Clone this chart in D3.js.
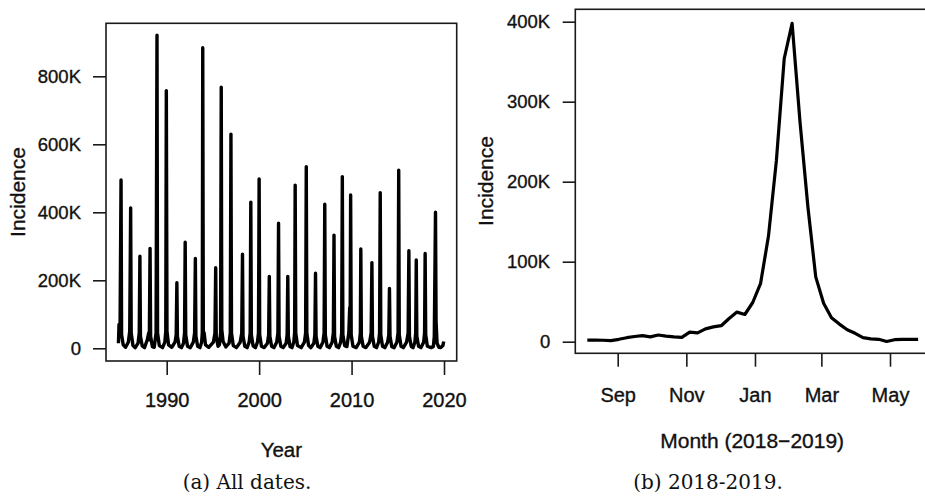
<!DOCTYPE html>
<html>
<head>
<meta charset="utf-8">
<script src="https://cdn.jsdelivr.net/npm/d3@7"></script>
<style>
  body { margin: 0; background: #fff; }
  svg { display: block; overflow: hidden; }
  .tick text, .title { font-family: "Liberation Sans", Arial, sans-serif; fill: #111; stroke: #111; stroke-width: 0.35px; }
  .caption { font-family: "DejaVu Serif", serif; fill: #111; }
</style>
</head>
<body>
<div id="chart"></div>
<script>
// (a) all dates: [year, incidence in thousands]
const allDates = [
  [1984.78, 15], [1984.84, 70], [1984.95, 40], [1985.06, 495], [1985.12, 40], [1985.30, 10], [1985.55, 3],
  [1985.85, 18], [1986.00, 50], [1986.10, 413], [1986.16, 45], [1986.35, 8], [1986.60, 2],
  [1986.90, 15], [1987.03, 45], [1987.10, 271], [1987.16, 35], [1987.35, 7], [1987.60, 2],
  [1987.90, 25], [1988.05, 45], [1988.12, 25], [1988.20, 294], [1988.26, 35], [1988.45, 5], [1988.65, 3],
  [1988.85, 45], [1988.95, 921], [1989.01, 45], [1989.20, 8], [1989.55, 2],
  [1989.80, 18], [1989.90, 50], [1989.96, 758], [1990.03, 50], [1990.20, 10], [1990.55, 3],
  [1990.90, 18], [1991.03, 40], [1991.10, 193], [1991.16, 35], [1991.35, 6], [1991.60, 2],
  [1991.82, 15], [1991.93, 45], [1992.00, 312], [1992.06, 40], [1992.25, 6], [1992.55, 2],
  [1992.88, 18], [1993.02, 45], [1993.10, 264], [1993.16, 35], [1993.35, 6], [1993.60, 2],
  [1993.78, 18], [1993.85, 45], [1993.90, 884], [1993.96, 50], [1994.05, 45], [1994.20, 10], [1994.55, 3],
  [1995.05, 18], [1995.22, 45], [1995.30, 237], [1995.36, 35], [1995.55, 6], [1995.70, 10],
  [1995.83, 45], [1995.90, 768], [1995.96, 55], [1996.10, 20], [1996.40, 4],
  [1996.75, 15], [1996.88, 45], [1996.95, 630], [1997.01, 45], [1997.20, 8], [1997.55, 2],
  [1997.95, 18], [1998.12, 45], [1998.20, 277], [1998.26, 35], [1998.45, 6], [1998.70, 2],
  [1998.92, 18], [1999.03, 45], [1999.10, 430], [1999.16, 40], [1999.35, 7], [1999.60, 2],
  [1999.82, 18], [1999.93, 45], [2000.00, 498], [2000.06, 40], [2000.25, 6], [2000.55, 2],
  [2000.90, 15], [2001.03, 40], [2001.10, 211], [2001.16, 35], [2001.35, 6], [2001.60, 2],
  [2001.90, 18], [2002.03, 45], [2002.10, 368], [2002.16, 35], [2002.35, 6], [2002.60, 2],
  [2002.92, 15], [2003.03, 40], [2003.10, 211], [2003.16, 35], [2003.35, 5], [2003.55, 2],
  [2003.75, 18], [2003.84, 45], [2003.90, 480], [2003.96, 45], [2004.15, 8], [2004.55, 2],
  [2004.90, 18], [2005.03, 45], [2005.10, 534], [2005.16, 45], [2005.35, 8], [2005.60, 2],
  [2005.92, 15], [2006.03, 40], [2006.10, 221], [2006.16, 35], [2006.35, 6], [2006.60, 2],
  [2006.90, 18], [2007.03, 45], [2007.10, 424], [2007.16, 40], [2007.35, 6], [2007.60, 2],
  [2007.90, 18], [2008.03, 45], [2008.10, 333], [2008.16, 35], [2008.35, 6], [2008.60, 2],
  [2008.82, 18], [2008.93, 45], [2009.00, 505], [2009.06, 40], [2009.25, 8], [2009.50, 5],
  [2009.70, 45], [2009.80, 120], [2009.85, 70], [2009.90, 451], [2009.96, 40], [2010.15, 6], [2010.50, 2],
  [2010.85, 18], [2010.95, 45], [2011.00, 292], [2011.06, 35], [2011.25, 6], [2011.55, 2],
  [2011.95, 18], [2012.12, 45], [2012.20, 252], [2012.26, 35], [2012.45, 6], [2012.70, 2],
  [2012.93, 18], [2013.03, 45], [2013.10, 458], [2013.16, 40], [2013.35, 6], [2013.60, 2],
  [2013.90, 18], [2014.03, 40], [2014.10, 176], [2014.16, 35], [2014.35, 5], [2014.60, 2],
  [2014.90, 18], [2015.03, 45], [2015.10, 524], [2015.16, 40], [2015.35, 6], [2015.60, 2],
  [2015.95, 18], [2016.12, 45], [2016.20, 287], [2016.26, 35], [2016.45, 6], [2016.65, 2],
  [2016.85, 18], [2016.94, 45], [2017.00, 260], [2017.06, 35], [2017.25, 6], [2017.50, 2],
  [2017.80, 18], [2017.90, 45], [2017.96, 279], [2018.02, 40], [2018.20, 6], [2018.60, 2],
  [2018.85, 5], [2018.95, 35], [2019.02, 230], [2019.08, 400], [2019.14, 80], [2019.25, 15],
  [2019.45, 3], [2019.65, 2], [2019.88, 8], [2019.97, 20]
];

// (b) 2018-2019 weekly values (thousands)
const weekDates = [
  "2018-08-05", "2018-08-12", "2018-08-19", "2018-08-26", "2018-09-02", "2018-09-09", "2018-09-16",
  "2018-09-23", "2018-09-30", "2018-10-07", "2018-10-14", "2018-10-21", "2018-10-28", "2018-11-04",
  "2018-11-11", "2018-11-18", "2018-11-25", "2018-12-02", "2018-12-09", "2018-12-16", "2018-12-23",
  "2018-12-30", "2019-01-06", "2019-01-13", "2019-01-20", "2019-01-27", "2019-02-03", "2019-02-10",
  "2019-02-17", "2019-02-24", "2019-03-03", "2019-03-10", "2019-03-17", "2019-03-24", "2019-03-31",
  "2019-04-07", "2019-04-14", "2019-04-21", "2019-04-28", "2019-05-05", "2019-05-12", "2019-05-19",
  "2019-05-26"
];
const weekValues = [
  2, 2, 1.8, 1.3, 3, 5, 6.5, 7.5, 6, 8.4, 7, 6, 5.5, 12, 11, 16, 18.5, 20, 29, 37, 34,
  49, 73, 132, 226, 354, 398, 275, 169, 81, 48, 30, 22, 15, 10.5, 5, 3.5, 3, 0.3, 2.5, 3, 3, 3
];

const yearTicks = [1990, 2000, 2010, 2020];
const leftTicks = [0, 200, 400, 600, 800];
const monthTicks = ["2018-09-01", "2018-11-01", "2019-01-01", "2019-03-01", "2019-05-01"];
const monthLabels = ["Sep", "Nov", "Jan", "Mar", "May"];
const rightTicks = [0, 100, 200, 300, 400];

const fullWidth = 925;
const fullHeight = 496;
const parseDay = d3.timeParse("%Y-%m-%d");
const kFormat = d => d === 0 ? "0" : d + "K";

const svg = d3.select("#chart")
              .append("svg")
              .attr("width", fullWidth)
              .attr("height", fullHeight);

// ---------- panel (a) ----------
const boxA = { left: 106, right: 456.7, top: 23.3, bottom: 361 };

const yearScale = d3.scaleLinear()
                    .domain([1990, 2020])
                    .range([166.7, 444]);

const incScaleA = d3.scaleLinear()
                    .domain([0, 800])
                    .range([348.3, 76.3]);

svg.append("rect")
   .attr("x", boxA.left).attr("y", boxA.top)
   .attr("width", boxA.right - boxA.left).attr("height", boxA.bottom - boxA.top)
   .attr("fill", "none").attr("stroke", "#1a1a1a").attr("stroke-width", 1.6);

svg.append("g")
   .attr("class", "y axis")
   .attr("transform", `translate(${boxA.left},0)`)
   .call(d3.axisLeft(incScaleA).tickValues(leftTicks).tickFormat(kFormat).tickSize(13).tickPadding(12))
   .call(g => g.select(".domain").remove())
   .call(g => g.selectAll("line").attr("stroke", "#1a1a1a").attr("stroke-width", 1.6))
   .call(g => g.selectAll("text").style("font-size", "18.5px"));

svg.append("g")
   .attr("class", "x axis")
   .attr("transform", `translate(0,${boxA.bottom})`)
   .call(d3.axisBottom(yearScale).tickValues(yearTicks).tickFormat(d3.format("d")).tickSize(14).tickPadding(18))
   .call(g => g.select(".domain").remove())
   .call(g => g.selectAll("line").attr("stroke", "#1a1a1a").attr("stroke-width", 1.6))
   .call(g => g.selectAll("text").style("font-size", "20px"));

const lineA = d3.line()
                .x(d => yearScale(d[0]))
                .y(d => incScaleA(d[1]));

svg.append("path")
   .datum(allDates)
   .attr("d", lineA)
   .attr("fill", "none")
   .attr("stroke", "#000")
   .attr("stroke-width", 3.4)
   .attr("stroke-linejoin", "round");

svg.append("text").attr("class", "title")
   .attr("transform", "translate(25,192) rotate(-90)")
   .attr("text-anchor", "middle").style("font-size", "21px")
   .text("Incidence");

svg.append("text").attr("class", "title")
   .attr("x", (boxA.left + boxA.right) / 2).attr("y", 457)
   .attr("text-anchor", "middle").style("font-size", "20.5px")
   .text("Year");

svg.append("text").attr("class", "caption")
   .attr("x", 247).attr("y", 489)
   .attr("text-anchor", "middle").style("font-size", "20px")
   .text("(a) All dates.");

// ---------- panel (b) ----------
const boxB = { left: 575.3, right: 929, top: 9.3, bottom: 353.3 };

const monthScale = d3.scaleTime()
                     .domain([parseDay("2018-09-01"), parseDay("2019-05-01")])
                     .range([617.7, 890]);

const incScaleB = d3.scaleLinear()
                    .domain([0, 400])
                    .range([341.7, 21.7]);

svg.append("rect")
   .attr("x", boxB.left).attr("y", boxB.top)
   .attr("width", boxB.right - boxB.left).attr("height", boxB.bottom - boxB.top)
   .attr("fill", "none").attr("stroke", "#1a1a1a").attr("stroke-width", 1.6);

svg.append("g")
   .attr("class", "y axis")
   .attr("transform", `translate(${boxB.left},0)`)
   .call(d3.axisLeft(incScaleB).tickValues(rightTicks).tickFormat(kFormat).tickSize(12.6).tickPadding(12.5))
   .call(g => g.select(".domain").remove())
   .call(g => g.selectAll("line").attr("stroke", "#1a1a1a").attr("stroke-width", 1.6))
   .call(g => g.selectAll("text").style("font-size", "18.5px"));

svg.append("g")
   .attr("class", "x axis")
   .attr("transform", `translate(0,${boxB.bottom})`)
   .call(d3.axisBottom(monthScale)
           .tickValues(monthTicks.map(parseDay))
           .tickFormat((d, i) => monthLabels[i])
           .tickSize(13.4).tickPadding(21))
   .call(g => g.select(".domain").remove())
   .call(g => g.selectAll("line").attr("stroke", "#1a1a1a").attr("stroke-width", 1.6))
   .call(g => g.selectAll("text").style("font-size", "20px"));

const weekly = weekDates.map((d, i) => ({ date: parseDay(d), value: weekValues[i] }));

const lineB = d3.line()
                .x(d => monthScale(d.date))
                .y(d => incScaleB(d.value));

svg.append("path")
   .datum(weekly)
   .attr("d", lineB)
   .attr("fill", "none")
   .attr("stroke", "#000")
   .attr("stroke-width", 3.2)
   .attr("stroke-linejoin", "round");

svg.append("text").attr("class", "title")
   .attr("transform", "translate(493,181) rotate(-90)")
   .attr("text-anchor", "middle").style("font-size", "21px")
   .text("Incidence");

svg.append("text").attr("class", "title")
   .attr("x", (boxB.left + boxB.right) / 2).attr("y", 447.5)
   .attr("text-anchor", "middle").style("font-size", "21px")
   .text("Month (2018\u22122019)");

svg.append("text").attr("class", "caption")
   .attr("x", 708).attr("y", 489)
   .attr("text-anchor", "middle").style("font-size", "20px")
   .text("(b) 2018-2019.");
</script>
</body>
</html>
